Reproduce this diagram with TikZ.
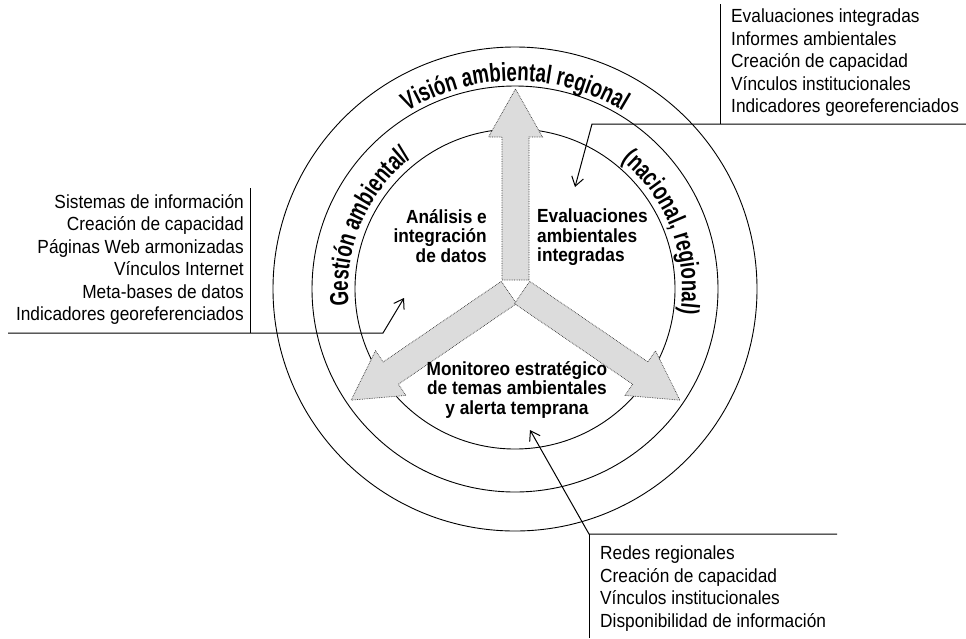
\documentclass[tikz,border=0pt]{standalone}
\usepackage{fontspec}
\setmainfont{Liberation Sans}[FakeStretch=0.91]
\newfontfamily\curvefont{Liberation Sans}[FakeStretch=0.72]
\usetikzlibrary{decorations.text,arrows.meta}
\definecolor{armgray}{RGB}{220,220,220}
\tikzset{
  ring/.style={draw=black,line width=0.9pt},
  arm/.style={fill=armgray,draw=black!80,densely dotted,line width=0.7pt},
  listtext/.style={inner sep=0pt,font=\fontsize{19}{22.5}\selectfont},
  centertext/.style={inner sep=0pt,font=\bfseries\fontsize{19}{19.5}\selectfont},
  leader/.style={draw=black,line width=1pt},
  leadarrow/.style={leader,-{Straight Barb[length=9pt,width=12pt]}},
  curvetext/.style={decorate,decoration={text along path,text align=center,
     text={|\curvefont\bfseries\fontsize{26}{26}\selectfont|#1}}}
}
\begin{document}
\begin{tikzpicture}[x=1pt,y=1pt]
\useasboundingbox (0,0) rectangle (966,-638);
\coordinate (C) at (515,-289);
\draw[ring] (C) circle[radius=242pt];
\draw[ring] (C) circle[radius=203pt];
\draw[ring] (C) circle[radius=160pt];
% arms
\foreach \a in {90,214.3,-34.3}{
  \begin{scope}[shift={(515.5,-288)},rotate=\a]
    \draw[arm] (8,-13.5) -- (151,-13.5) -- (151,-27) -- (199,0) -- (151,27) -- (151,13.5) -- (8,13.5) -- cycle;
  \end{scope}
}
% curved texts
\path[curvetext={Visión ambiental regional}] ([shift={(140:208pt)}]C) arc[start angle=140,end angle=40,radius=208pt];
\path[curvetext={Gestión ambiental/}] ([shift={(202:167pt)}]C) arc[start angle=202,end angle=112,radius=167pt];
\path[curvetext={(nacional, regional)}] ([shift={(66:167pt)}]C) arc[start angle=66,end angle=-24,radius=167pt];
% center labels
\node[centertext,anchor=north east,align=right] (ana) at (487,-209) {Análisis e\\integración\\de datos};
\node[centertext,anchor=north west,align=left] (eva) at (537,-209) {Evaluaciones\\ambientales\\integradas};
\node[centertext,anchor=north,align=center] (mon) at (517,-361) {Monitoreo estratégico\\de temas ambientales\\y alerta temprana};
% lists
\node[listtext,anchor=north west,align=left] (tr) at (731,-9) {Evaluaciones integradas\\Informes ambientales\\Creación de capacidad\\Vínculos institucionales\\Indicadores georeferenciados};
\node[listtext,anchor=north east,align=right] (lf) at (244,-194) {Sistemas de información\\Creación de capacidad\\Páginas Web armonizadas\\Vínculos Internet\\Meta-bases de datos\\Indicadores georeferenciados};
\node[listtext,anchor=north west,align=left] (bt) at (600,-546) {Redes regionales\\Creación de capacidad\\Vínculos institucionales\\Disponibilidad de información};
% leaders
\coordinate (trA) at (720,-4);
\coordinate (trB) at (720,-124);
\coordinate (trE) at (966,-124);
\coordinate (trK) at (592,-124);
\coordinate (trT) at (575,-187);
\draw[leader] (trA) -- (trB);
\draw[leadarrow] (trE) -- (trK) -- (trT);
\coordinate (lfA) at (250,-188);
\coordinate (lfB) at (250,-333);
\coordinate (lfE) at (8,-333);
\coordinate (lfK) at (383,-333);
\coordinate (lfT) at (404,-298);
\draw[leader] (lfA) -- (lfB);
\draw[leadarrow] (lfE) -- (lfK) -- (lfT);
\coordinate (btA) at (589,-638);
\coordinate (btK) at (589,-534);
\coordinate (btE) at (837,-534);
\coordinate (btT) at (530,-430);
\draw[leader] (btA) -- (btK);
\draw[leadarrow] (btE) -- (btK) -- (btT);
\end{tikzpicture}
\end{document}
